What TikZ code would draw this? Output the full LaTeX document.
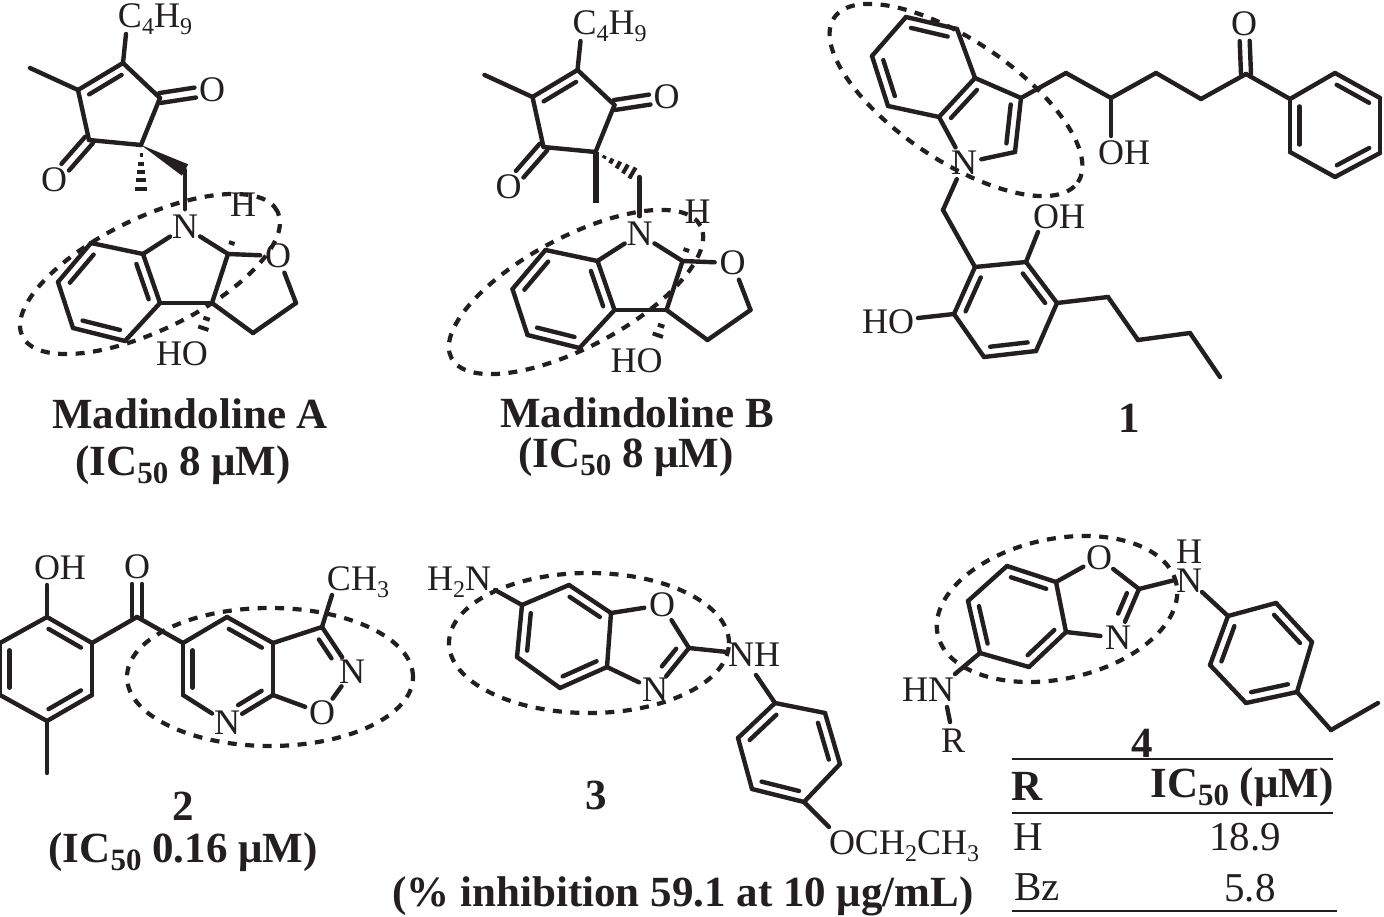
\documentclass[tikz,border=0pt]{standalone}
\usepackage{fontspec}
\setmainfont{Liberation Serif}
\usetikzlibrary{calc}
\definecolor{ink}{HTML}{231F20}

\newcommand{\atomfont}{\fontsize{36}{29}\selectfont\def\subsize{24}}
\newcommand{\titlefont}{\fontsize{43}{48}\selectfont\bfseries\def\subsize{31}}
\newcommand{\rowfont}{\fontsize{41}{44}\selectfont}
\newcommand{\low}[1]{\raisebox{-.2em}{\fontsize{\subsize}{\subsize}\selectfont #1}}

% point lists and bond lists
\newcommand{\pts}[1]{\foreach \n/\x/\y in {#1} \coordinate (\n) at (\x,\y);}
\newcommand{\bonds}[1]{\foreach \p/\q in {#1} \draw[bond] (\p) -- (\q);}
% inner line of a double bond, on the left going from #3 to #4
\newcommand{\innerat}[4]{\draw[bond] ($(#3)!#1!(#4)!9.5pt!90:(#4)$) -- ($(#4)!#2!(#3)!9.5pt!-90:(#3)$);}
\newcommand{\inners}[1]{\foreach \p/\q in {#1} \innerat{.14}{.14}{\p}{\q};}
% C=O
\newcommand{\carbonyl}[2]{
  \draw[bond, shorten >=17pt] ($(#1)!5pt!90:(#2)$) -- ($(#2)!5pt!-90:(#1)$);
  \draw[bond, shorten >=17pt] ($(#1)!5pt!-90:(#2)$) -- ($(#2)!5pt!90:(#1)$);
}
% hashed bond: marks at the fractions #3, half width #4 at the far end
\newcommand{\hashed}[4]{\foreach \t in {#3}
  \draw[hashmark] ($(#1)!\t!(#2)!\t*#4pt!90:(#2)$) -- ($(#1)!\t!(#2)!\t*#4pt!-90:(#2)$);}
\newcommand{\ringmark}[5]{\draw[ring, shift={(#1,#2)}, rotate=#5] (0,0) ellipse [x radius=#3pt, y radius=#4pt];}

% the part that both madindolines share
\newcommand{\madcore}{
  \pts{c1/123/63, c2/78/90, me/30/68, c3/89/140, c4/141/145, c5/160/98, tail/126/34,
    ch2/185/170, a1/143/254, a2/160/303, a3/125/341, a4/73/328, a5/58/282, a6/91/243,
    d1/228/254, d2/212/303, d3/253/333, d4/296/303, hend/237/228, hoend/200/338}
  \node[group] (butyl) at (155,19) {C\low{4}H\low{9}};
  \node[atom] (oa) at (212,90) {O};
  \node[atom] (ob) at (54,180) {O};
  \node[atom] (na) at (185,227) {N};
  \node[atom] (oc) at (278,256) {O};
  \node[group] (ha) at (243,205) {H};
  \node[group] (hoa) at (182,354) {HO};
  \bonds{c1/tail, c1/c2, c2/me, c2/c3, c3/c4, c4/c5, c5/c1, ch2/na, na/a1, na/d1,
    a1/a2, a2/a3, a3/a4, a4/a5, a5/a6, a6/a1, d1/oc, d1/d2, a2/d2, d2/d3, d3/d4, d4/oc}
  \inners{c1/c2, a2/a1, a4/a3, a6/a5}
  \carbonyl{c5}{oa}
  \carbonyl{c3}{ob}
  \hashed{d1}{hend}{.42,1}{7}
  \hashed{d2}{hoend}{.45,.72,1}{7.5}
}

\begin{document}
\begin{tikzpicture}[x=1pt, y=-1pt, color=ink]

\tikzstyle{bond}=[line width=4.4pt, line cap=round, line join=round]
\tikzstyle{hashmark}=[line width=4pt]
\tikzstyle{ring}=[line width=4.2pt, dash pattern=on 9pt off 8.5pt]
\tikzstyle{atom}=[circle, inner sep=0pt, font=\atomfont]
\tikzstyle{group}=[inner sep=0pt, font=\atomfont]
\tikzstyle{title}=[inner sep=0pt, font=\titlefont]
\tikzstyle{cell}=[inner sep=0pt, font=\rowfont]
\tikzstyle{rule}=[line width=2.6pt]

\useasboundingbox (0,0) rectangle (1384,917);

% Madindoline A
\begin{scope}
  \madcore
  \fill ($(ch2)!6.5pt!90:(c4)$) -- (c4) -- ($(ch2)!6.5pt!-90:(c4)$) -- cycle;
  \pts{me2/141/197}
  \hashed{c4}{me2}{.2,.36,.52,.68,.84,1}{7.5}
\end{scope}
\ringmark{150}{274}{142}{56}{26}
\node[title] (nameA) at (190,414) {Madindoline A};
\node[title] (icA) at (183,465) {(IC\low{50} 8 μM)};

% Madindoline B
\begin{scope}[shift={(454.5,7)}]
  \madcore
  \pts{me2/141/196}
  \draw[line width=6pt] (c4) -- (me2);
  \hashed{c4}{ch2}{.2,.36,.52,.68,.84,1}{7.5}
\end{scope}
\ringmark{576}{292}{141}{55}{28}
\node[title] (nameB) at (637,413) {Madindoline B};
\node[title] (icB) at (626,457) {(IC\low{50} 8 μM)};

% compound 1
\pts{b1/906/17, b2/957/29, b3/975/78, b4/939/117, b5/888/106, b6/872/56, k3/1021/98, k2/1015/152,
  e1/1066/73, e2/1111/98, e3/1156/73, e4/1201/99, e5/1246/74, ohe/1111/136,
  p1/1290/99, p2/1335/73, p3/1380/98, p4/1380/153, p5/1335/177, p6/1290/152,
  g1/943/210, r1/975/267, r2/1026/262, r3/1057/303, r4/1036/351, r5/984/357, r6/954/314,
  ohf/1038/232, hog/918/318, f1/1108/297, f2/1138/340, f3/1190/333, f4/1220/377}
\node[atom] (nb) at (964,163) {N};
\node[atom] (od) at (1244,24) {O};
\node[group] (oha) at (1124,153) {OH};
\node[group] (ohb) at (1059,217) {OH};
\node[group] (hob) at (888,322) {HO};
\bonds{b1/b2, b2/b3, b3/b4, b4/b5, b5/b6, b6/b1, b3/k3, k3/k2, k2/nb, nb/b4,
  k3/e1, e1/e2, e2/e3, e3/e4, e4/e5, e5/p1, e2/ohe,
  p1/p2, p2/p3, p3/p4, p4/p5, p5/p6, p6/p1, nb/g1, g1/r1,
  r1/r2, r2/r3, r3/r4, r4/r5, r5/r6, r6/r1, r2/ohf, r6/hog, r3/f1, f1/f2, f2/f3, f3/f4}
\inners{b2/b1, b3/b4, b6/b5, k2/k3, p1/p6, p3/p2, p5/p4, r1/r6, r3/r2, r5/r4}
\carbonyl{e5}{od}
\ringmark{956}{100}{147}{60}{-34}
\node[title] (nameC) at (1129,418) {1};

% compound 2
\pts{q1/47/617, q2/92/643, q3/92/695, q4/47/721, q5/0/695, q6/0/643, ohg/47/585, meq/47/773,
  kq/137/617, v1/183/643, v2/227/617, v3/273/643, v4/273/695, v6/183/695, iso/322/627, meh/332/595}
\node[atom] (ne) at (227,723) {N};
\node[atom] (nf) at (352,672) {N};
\node[atom] (oe) at (322,713) {O};
\node[atom] (of) at (137,567) {O};
\node[group] (ohc) at (60,568) {OH};
\node[group] (methyl) at (358,582) {CH\low{3}};
\bonds{q1/q2, q2/q3, q3/q4, q4/q5, q5/q6, q6/q1, q1/ohg, q4/meq, q2/kq, kq/v1,
  v1/v2, v2/v3, v3/v4, v1/v6, v6/ne, ne/v4, v3/iso, iso/nf, nf/oe, oe/v4, iso/meh}
\inners{q2/q1, q4/q3, q6/q5, v1/v6, v3/v2}
\innerat{.35}{.14}{ne}{v4}
\innerat{.42}{.16}{nf}{iso}
\carbonyl{kq}{of}
\ringmark{270}{677}{143}{69}{0}
\node[title] (nameD) at (183,806) {2};
\node[title] (icD) at (183,852) {(IC\low{50} 0.16 μM)};

% compound 3
\pts{s1/522/605, s2/569/585, s3/611/613, s4/607/667, s5/560/688, s6/517/657, nhe/495/590,
  cx/689/648, nhf/727/652, nhg/756/675,
  t1/775/703, t2/825/713, t3/840/764, t4/804/802, t5/752/789, t6/738/738, oe3/829/827}
\node[atom] (og) at (662,605) {O};
\node[atom] (ng) at (655,690) {N};
\node[group] (amine) at (459,582) {H\low{2}N};
\node[group] (nhc) at (754,655) {NH};
\node[group] (ethoxy) at (904,846) {OCH\low{2}CH\low{3}};
\bonds{nhe/s1, s1/s2, s2/s3, s3/s4, s4/s5, s5/s6, s6/s1, s3/og, og/cx, cx/ng, ng/s4,
  cx/nhf, nhg/t1, t1/t2, t2/t3, t3/t4, t4/t5, t5/t6, t6/t1, t4/oe3}
\inners{s1/s6, s3/s2, s5/s4, t1/t6, t3/t2, t5/t4}
\innerat{.42}{.16}{ng}{cx}
\ringmark{589}{643}{140}{70}{0}
\node[title] (nameE) at (596,795) {3};
\node[title] (inhib) at (683,896) {(\% inhibition 59.1 at 10 μg/mL)};

% compound 4
\pts{u1/1007/566, u2/1056/582, u3/1066/632, u4/1029/667, u5/980/653, u6/968/601, nhh/955/674,
  cy/1139/589, nhi/1175/580, nhj/1202/592, nhk/947/707, rend/950/722,
  w1/1228/616, w2/1276/603, w3/1312/642, w4/1297/692, w5/1246/703, w6/1210/665, et1/1331/730, et2/1378/703}
\node[atom] (oh4) at (1099,558) {O};
\node[atom] (nh4) at (1118,638) {N};
\node[group, align=center] (amid) at (1189,566) {H\\N};
\node[group] (hnr) at (928,690) {HN};
\node[group] (rr) at (953,741) {R};
\bonds{u1/u2, u2/u3, u3/u4, u4/u5, u5/u6, u6/u1, u2/oh4, oh4/cy, cy/nh4, nh4/u3,
  cy/nhi, nhj/w1, w1/w2, w2/w3, w3/w4, w4/w5, w5/w6, w6/w1, w4/et1, et1/et2, u5/nhh, nhk/rend}
\inners{u2/u1, u4/u3, u6/u5, w1/w6, w3/w2, w5/w4}
\innerat{.42}{.16}{nh4}{cy}
\ringmark{1057}{609}{122}{70}{12}
\node[title] (nameF) at (1142,743) {4};

% table
\draw[rule] (1012,759) -- (1333,759);
\draw[rule] (1012,813) -- (1333,813);
\draw[rule] (1012,911) -- (1337,911);
\node[title] (headR) at (1027,786) {R};
\node[title] (headIC) at (1242,787) {IC\low{50} (μM)};
\node[cell] (rowH) at (1028,837) {H};
\node[cell] (valH) at (1245,837) {18.9};
\node[cell] (rowB) at (1037,887) {Bz};
\node[cell] (valB) at (1250,888) {5.8};
\end{tikzpicture}
\end{document}
